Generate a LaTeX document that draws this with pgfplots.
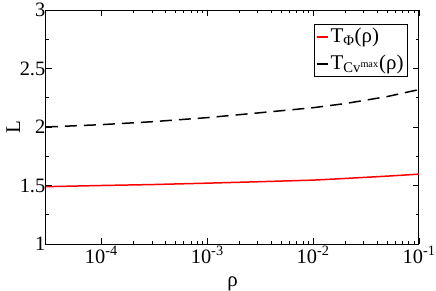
\documentclass[border=0pt]{standalone}
\usepackage{fontspec}
\setmainfont{Liberation Serif}
\usepackage{pgfplots}
\pgfplotsset{compat=1.18}
\begin{document}
\fontsize{21}{24}\selectfont
\begin{tikzpicture}
\begin{axis}[
  name=main,
  scale only axis,
  width=373bp, height=234bp,
  xmode=log,
  xmin=3e-5, xmax=0.1,
  ymin=1, ymax=3,
  xtick={1e-4,1e-3,1e-2,1e-1},
  xticklabels={10\textsuperscript{-4},10\textsuperscript{-3},10\textsuperscript{-2},10\textsuperscript{-1}},
  ytick={1,1.5,2,2.5,3},
  yticklabels={1,1.5,2,2.5,3},
  minor ytick={1.25,1.75,2.25,2.75},
  tick align=inside,
  tick pos=both,
  major tick length=6bp,
  minor tick length=3bp,
  every tick/.style={black, line width=0.6pt},
  axis line style={line width=1pt},
  xlabel={ρ}, ylabel={L},
  xlabel style={at={(axis description cs:0.5,0)}, anchor=base, yshift=-42bp},
  ylabel style={yshift=-8bp},
  yticklabel style={inner xsep=0.5bp, inner ysep=0pt},
  xticklabel style={inner ysep=2bp},
  ticklabel style={font=\fontsize{20.5}{24}\selectfont},
  legend style={at={(0.97,0.94)}, anchor=north east, draw=black, line width=0.6pt,
    font=\fontsize{21}{24}\selectfont, inner sep=2pt, row sep=5pt},
  legend cell align=left,
  legend image code/.code={\draw[#1] (0cm,0cm) -- (0.4cm,0cm);},
]
\addplot[red, line width=1.5pt] coordinates {
  (3e-5,1.49) (1e-4,1.50) (3e-4,1.508) (1e-3,1.52) (3e-3,1.532) (1e-2,1.546) (2e-2,1.56) (5e-2,1.58) (1e-1,1.597)
};
\addlegendentry{T\textsubscript{Φ}(ρ)}
\addplot[black, line width=1.5pt, dash pattern=on 12bp off 7bp] coordinates {
  (3e-5,2.00) (1e-4,2.02) (3e-4,2.045) (1e-3,2.08) (3e-3,2.12) (1e-2,2.165) (2e-2,2.20) (5e-2,2.26) (1e-1,2.32)
};
\addlegendentry{T\textsubscript{Cv\textsuperscript{max}}(ρ)}
\end{axis}
\pgfresetboundingbox
\useasboundingbox ([xshift=-46bp,yshift=-47bp]main.south west) rectangle ([xshift=17bp,yshift=10bp]main.north east);
\end{tikzpicture}
\end{document}
